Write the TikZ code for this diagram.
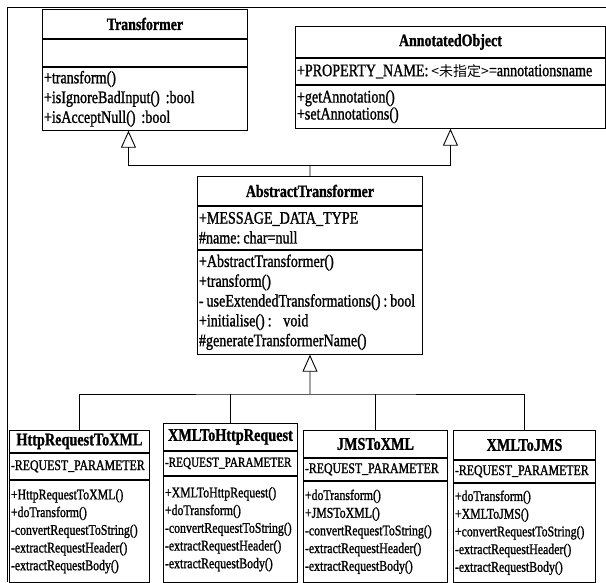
\documentclass[tikz,border=0pt]{standalone}
\usepackage{fontspec}
\setmainfont{Liberation Serif}
\newfontfamily\narrowfont[FakeStretch=0.8, FakeBold=1.2]{Liberation Serif}
\newfontfamily\cjk{Noto Sans CJK SC}
\usetikzlibrary{positioning,arrows.meta}
\exhyphenpenalty=10000
\tikzstyle{block} = [rectangle, draw, line width=0.9pt, inner xsep=1.5pt, inner ysep=0pt, align=left]
\tikzstyle{clsname} = [block, align=center, font=\narrowfont\bfseries\fontsize{17.4}{18}\selectfont]
\tikzstyle{clsbody} = [block, font=\narrowfont\fontsize{17.6}{19.8}\selectfont]
\tikzstyle{subname} = [block, align=center, font=\narrowfont\bfseries\fontsize{17.8}{18}\selectfont]
\tikzstyle{subbody} = [block, font=\narrowfont\fontsize{14.8}{17.7}\selectfont]
\tikzstyle{line} = [draw, line width=0.9pt]
\tikzstyle{inherit} = [line, -{Triangle[open, length=17pt, width=15pt]}]

\begin{document}
\begin{tikzpicture}[x=1pt, y=1pt]
    \useasboundingbox (0,0) rectangle (606,-582);

    % Frame
    \path [line] (7,-582) -- (7,-7) -- (606,-7);

    % Place nodes
    \node [clsname, anchor=north west, text width=202pt, minimum height=29pt] (tr) at (42,-9) {Transformer};
    \node [clsbody, below=0pt of tr, text width=202pt, minimum height=27pt] (tr-a) {};
    \node [clsbody, below=0pt of tr-a, text width=202pt, minimum height=63pt] (tr-m)
        {+transform()\\+isIgnoreBadInput() :bool\\+isAcceptNull() :bool};

    \node [clsname, anchor=north west, text width=307pt, minimum height=31pt] (ao) at (295,-26) {AnnotatedObject};
    \node [clsbody, below=0pt of ao, text width=307pt, minimum height=26pt] (ao-a)
        {\mbox{+PROPERTY\_NAME:\,{\cjk\fontsize{14}{16}\selectfont<未指定>}=annotationsname}};
    \node [clsbody, below=0pt of ao-a, text width=307pt, minimum height=43pt,
        font=\narrowfont\fontsize{17.6}{16}\selectfont] (ao-m)
        {+getAnnotation()\\+setAnnotations()};

    \node [clsname, anchor=north west, text width=222pt, minimum height=29pt] (at) at (197,-176) {AbstractTransformer};
    \node [clsbody, below=0pt of at, text width=222pt, minimum height=43pt] (at-a)
        {+MESSAGE\_DATA\_TYPE\\\#name:\,char=null};
    \node [clsbody, below=0pt of at-a, text width=222pt, minimum height=104pt] (at-m)
        {+AbstractTransformer()\\+transform()\\\mbox{-\,useExtendedTransformations()\,:\,bool}\\+initialise()\,:~~void\\\#generateTransformerName()};

    \node [subname, anchor=north west, text width=137pt, minimum height=22pt] (hx) at (9,-430) {HttpRequestToXML};
    \node [subbody, below=0pt of hx, text width=137pt, minimum height=26pt] (hx-a) {\mbox{-REQUEST\_PARAMETER}};
    \node [subbody, below=0pt of hx-a, text width=137pt, minimum height=102pt] (hx-m)
        {+HttpRequestToXML()\\+doTransform()\\-convertRequestToString()\\-extractRequestHeader()\\-extractRequestBody()};

    \node [subname, anchor=north west, text width=131pt, minimum height=27pt] (xh) at (163,-423) {XMLToHttpRequest};
    \node [subbody, below=0pt of xh, text width=131pt, minimum height=24pt,
        font=\narrowfont\fontsize{14}{17.7}\selectfont] (xh-a) {\mbox{-REQUEST\_PARAMETER}};
    \node [subbody, below=0pt of xh-a, text width=131pt, minimum height=106pt] (xh-m)
        {+XMLToHttpRequest()\\+doTransform()\\-convertRequestToString()\\-extractRequestHeader()\\-extractRequestBody()};

    \node [subname, anchor=north west, text width=141pt, minimum height=27pt] (jx) at (303,-430) {JMSToXML};
    \node [subbody, below=0pt of jx, text width=141pt, minimum height=22pt] (jx-a) {\mbox{-REQUEST\_PARAMETER}};
    \node [subbody, below=0pt of jx-a, text width=141pt, minimum height=101pt] (jx-m)
        {+doTransform()\\+JMSToXML()\\-convertRequestToString()\\-extractRequestHeader()\\-extractRequestBody()};

    \node [subname, anchor=north west, text width=139pt, minimum height=29pt] (xj) at (453,-430) {XMLToJMS};
    \node [subbody, below=0pt of xj, text width=139pt, minimum height=22pt] (xj-a) {\mbox{-REQUEST\_PARAMETER}};
    \node [subbody, below=0pt of xj-a, text width=139pt, minimum height=99pt] (xj-m)
        {+doTransform()\\+XMLToJMS()\\+convertRequestToString()\\-extractRequestHeader()\\-extractRequestBody()};

    % Draw edges
    \coordinate (upbus) at (310,-165);
    \coordinate (downbus) at (310,-394);
    \path [line] (at.north) -- (upbus);
    \path [inherit] (upbus) -| ([xshift=-16.5pt]tr-m.south);
    \path [inherit] (upbus) -| (ao-m.south);
    \path [inherit] (downbus) -- (at-m.south);
    \path [line] (hx.north) |- (downbus) -| (xj.north);
    \path [line] (xh.north) -- (xh.north |- downbus);
    \path [line] (jx.north) -- (jx.north |- downbus);

\end{tikzpicture}
\end{document}
